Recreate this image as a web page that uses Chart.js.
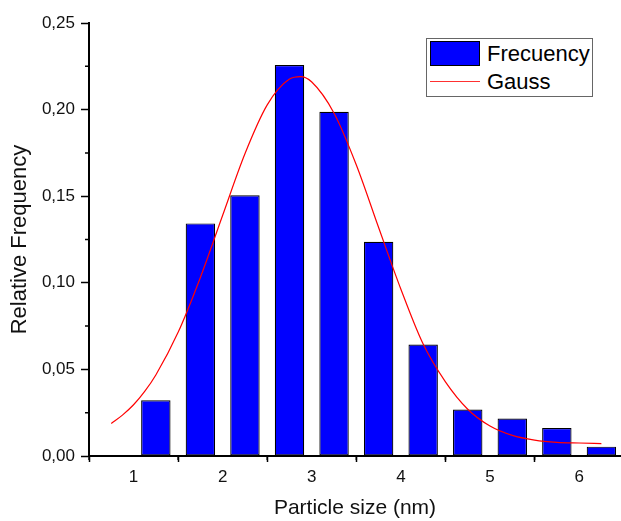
<!DOCTYPE html>
<html>
<head>
<meta charset="utf-8">
<script src="https://cdn.jsdelivr.net/npm/chart.js@4.4.1/dist/chart.umd.min.js"></script>
<style>
  body { margin: 0; background: #fff; overflow: hidden; }
  #wrap { position: relative; width: 621px; height: 521px; }
  #legend {
    position: absolute; left: 426px; top: 38px; width: 165px; height: 57px;
    border: 1.5px solid #666; background: #fff;
    font-family: "Liberation Sans", Arial, sans-serif; font-size: 22px; color: #000;
  }
  .item { position: absolute; left: 3px; height: 25px; line-height: 25px; }
  .item span { position: absolute; left: 57px; top: 0; white-space: nowrap; }
  .swatch { position: absolute; left: 0; top: 0; width: 48px; height: 23px; background: #0000ff; border: 1px solid #000; }
  .line { position: absolute; left: 0; top: 12px; width: 50px; height: 0; border-top: 1.5px solid #ff3030; }
</style>
</head>
<body>
<div id="wrap">
  <canvas id="c" width="621" height="521"></canvas>
  <div id="legend">
    <div class="item" style="top:2px"><div class="swatch"></div><span>Frecuency</span></div>
    <div class="item" style="top:30px"><div class="line"></div><span>Gauss</span></div>
  </div>
</div>
<script>
// histogram bins (bin centre, nm) and relative frequency
const binCenters = [1.25, 1.75, 2.25, 2.75, 3.25, 3.75, 4.25, 4.75, 5.25, 5.75, 6.25];
const frequency = [0.0322, 0.1343, 0.1505, 0.2257, 0.1988, 0.1237, 0.0644, 0.0268, 0.0216, 0.0162, 0.0054];

// Gauss fit curve
const gaussX = [0.75, 0.875, 1.0, 1.125, 1.25, 1.5, 1.75, 2.0, 2.25, 2.5, 2.75, 2.875, 3.0, 3.25, 3.5, 3.75, 4.0, 4.25, 4.5, 4.75, 5.0, 5.25, 5.5, 5.75, 6.0, 6.25];
const gaussY = [0.0188, 0.0236, 0.0296, 0.0373, 0.0468, 0.0714, 0.1031, 0.139, 0.1745, 0.2027, 0.2176, 0.219, 0.2159, 0.1979, 0.168, 0.1319, 0.0963, 0.0646, 0.0428, 0.027, 0.0173, 0.0119, 0.0092, 0.0079, 0.0075, 0.0072];

// axis ticks
const xTicks = [1, 2, 3, 4, 5, 6];
const xMinorTicks = [0.5, 1.5, 2.5, 3.5, 4.5, 5.5, 6.5];
const yTicks = [0, 0.05, 0.10, 0.15, 0.20, 0.25];
const yMinorTicks = [0.025, 0.075, 0.125, 0.175, 0.225];

const FONT = '"Liberation Sans", Arial, sans-serif';

// short minor tick marks outside the plot
const minorTicks = {
    id: 'minorTicks',
    afterDraw(chart) {
        const ctx = chart.ctx;
        const xs = chart.scales.x, ys = chart.scales.y;
        const area = chart.chartArea;
        ctx.save();
        ctx.strokeStyle = '#000';
        ctx.lineWidth = 1.5;
        ctx.beginPath();
        xMinorTicks.forEach(v => {
            const px = xs.getPixelForValue(v);
            if (px < area.left - 1 || px > area.right + 1) return;
            ctx.moveTo(px, area.bottom);
            ctx.lineTo(px, area.bottom + 4);
        });
        yMinorTicks.forEach(v => {
            const py = ys.getPixelForValue(v);
            ctx.moveTo(area.left, py);
            ctx.lineTo(area.left - 4, py);
        });
        ctx.stroke();
        ctx.restore();
    }
};

new Chart(document.getElementById('c'), {
    data: {
        datasets: [
            {
                type: 'line',
                label: 'Gauss',
                data: gaussX.map((x, i) => ({ x: x, y: gaussY[i] })),
                borderColor: '#ff0000',
                borderWidth: 1.2,
                pointRadius: 0,
                cubicInterpolationMode: 'monotone',
                fill: false,
                order: 0
            },
            {
                type: 'bar',
                label: 'Frecuency',
                data: binCenters.map((x, i) => ({ x: x, y: frequency[i] })),
                backgroundColor: '#0000ff',
                borderColor: '#000',
                borderWidth: 1.2,
                borderSkipped: false,
                barPercentage: 0.66,
                categoryPercentage: 1,
                order: 1
            }
        ]
    },
    options: {
        responsive: false,
        animation: false,
        devicePixelRatio: 1,
        layout: { padding: { top: 23, right: 0, left: 0, bottom: 0 } },
        plugins: { legend: { display: false }, tooltip: { enabled: false } },
        scales: {
            x: {
                type: 'linear',
                offset: false,
                min: 0.5,
                max: 6.47,
                afterBuildTicks: s => { s.ticks = xTicks.map(v => ({ value: v })); },
                afterFit: s => { s.height = 65; },
                grid: { drawOnChartArea: false, tickLength: 6, tickColor: '#000', tickWidth: 1.5 },
                border: { color: '#000', width: 2 },
                ticks: { color: '#111', font: { family: FONT, size: 17 }, padding: 5, maxRotation: 0 },
                title: { display: true, text: 'Particle size (nm)', color: '#111', font: { family: FONT, size: 21 }, padding: { top: 4, bottom: 0 } }
            },
            y: {
                min: 0,
                max: 0.25,
                afterBuildTicks: s => { s.ticks = yTicks.map(v => ({ value: v })); },
                afterFit: s => { s.width = 89; },
                grid: { drawOnChartArea: false, tickLength: 8, tickColor: '#000', tickWidth: 1.5 },
                border: { color: '#000', width: 2 },
                ticks: {
                    color: '#111',
                    font: { family: FONT, size: 17 },
                    padding: 6,
                    callback: v => v.toFixed(2).replace('.', ',')
                },
                title: { display: true, text: 'Relative Frequency', color: '#111', font: { family: FONT, size: 22 }, padding: { top: 7, bottom: 0 } }
            }
        }
    },
    plugins: [minorTicks]
});
</script>
</body>
</html>
